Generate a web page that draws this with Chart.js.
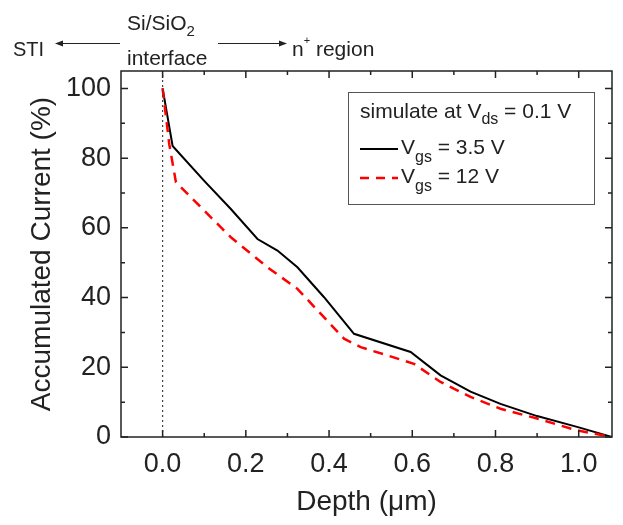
<!DOCTYPE html>
<html>
<head>
<meta charset="utf-8">
<script src="https://cdn.jsdelivr.net/npm/chart.js@4/dist/chart.umd.min.js"></script>
<style>
  body { margin: 0; background: #fff; }
  canvas { display: block; }
</style>
</head>
<body>
<canvas id="depthChart" width="623" height="525"></canvas>
<script>
// depth (um) vs accumulated current (%)
const depth35 = [0, 0.024, 0.1, 0.164, 0.228, 0.276, 0.324, 0.388, 0.46, 0.596, 0.668, 0.74, 0.812, 0.9, 0.996, 1.08];
const current35 = [100, 83.5, 73.5, 65.4, 56.8, 53.5, 48.7, 40.1, 29.6, 24.4, 17.7, 13.0, 9.5, 6.0, 2.9, 0];
const depth12 = [0, 0.016, 0.032, 0.092, 0.164, 0.252, 0.324, 0.436, 0.476, 0.604, 0.668, 0.74, 0.812, 0.9, 0.996, 1.08];
const current12 = [100, 84, 73.1, 65.9, 57.3, 48.7, 42.5, 28.2, 25.8, 21, 15.8, 11.5, 8.1, 5.3, 1.9, 0];
const interfaceDepth = 0;
const xTicks = [0, 0.2, 0.4, 0.6, 0.8, 1.0];
const xMinorTicks = [0.1, 0.3, 0.5, 0.7, 0.9];
const yTicks = [0, 20, 40, 60, 80, 100];
const yMinorTicks = [10, 30, 50, 70, 90];

const FONT = 'Liberation Sans, Arial, sans-serif';
const TEXT = '#222';

function toPoints(xs, ys) {
  return xs.map((v, i) => ({ x: v, y: ys[i] }));
}

// frame + inward ticks on all four sides
const frameTicks = {
  id: 'frameTicks',
  afterDatasetsDraw(chart) {
    const { ctx, chartArea: { left, right, top, bottom }, scales: { x, y } } = chart;
    ctx.save();
    ctx.strokeStyle = '#222';
    ctx.lineWidth = 1.5;
    ctx.strokeRect(left, top, right - left, bottom - top);
    ctx.beginPath();
    const xTick = (v, len) => {
      const px = x.getPixelForValue(v);
      ctx.moveTo(px, bottom); ctx.lineTo(px, bottom - len);
      ctx.moveTo(px, top); ctx.lineTo(px, top + len);
    };
    const yTick = (v, len) => {
      const py = y.getPixelForValue(v);
      ctx.moveTo(left, py); ctx.lineTo(left + len, py);
      ctx.moveTo(right, py); ctx.lineTo(right - len, py);
    };
    xTicks.forEach(v => xTick(v, 7));
    xMinorTicks.forEach(v => xTick(v, 4));
    yTicks.forEach(v => yTick(v, 7));
    yMinorTicks.forEach(v => yTick(v, 4));
    ctx.stroke();
    ctx.restore();
  }
};

function textWithSub(ctx, parts, x, y) {
  // parts: [text, size, dy]
  parts.forEach(p => {
    ctx.font = p[1] + 'px ' + FONT;
    ctx.fillText(p[0], x, y + p[2]);
    x += ctx.measureText(p[0]).width;
  });
  return x;
}

function arrow(ctx, x1, x2, y) {
  const dir = x2 > x1 ? 1 : -1;
  ctx.beginPath();
  ctx.moveTo(x1, y);
  ctx.lineTo(x2 - dir * 5, y);
  ctx.stroke();
  ctx.beginPath();
  ctx.moveTo(x2, y);
  ctx.lineTo(x2 - dir * 8, y - 3);
  ctx.lineTo(x2 - dir * 8, y + 3);
  ctx.closePath();
  ctx.fill();
}

// legend box and top annotations
const notes = {
  id: 'notes',
  afterDraw(chart) {
    const ctx = chart.ctx;
    ctx.save();
    ctx.fillStyle = TEXT;
    ctx.strokeStyle = TEXT;
    ctx.textBaseline = 'alphabetic';
    ctx.textAlign = 'left';

    // legend
    ctx.fillStyle = '#fff';
    ctx.fillRect(348, 92, 246, 112);
    ctx.lineWidth = 1;
    ctx.strokeStyle = '#555';
    ctx.strokeRect(348.5, 92.5, 246, 112);
    ctx.fillStyle = TEXT;
    let xe = textWithSub(ctx, [['simulate at V', 21, 0], ['ds', 16, 6]], 360, 118);
    textWithSub(ctx, [[' = 0.1 V', 21, 0]], xe, 118);

    ctx.lineWidth = 2;
    ctx.strokeStyle = '#000';
    ctx.beginPath(); ctx.moveTo(360, 149); ctx.lineTo(398, 149); ctx.stroke();
    xe = textWithSub(ctx, [['V', 21, 0], ['gs', 16, 8]], 401, 154);
    textWithSub(ctx, [[' = 3.5 V', 21, 0]], xe, 154);

    ctx.strokeStyle = '#ff0000';
    ctx.lineWidth = 2.5;
    ctx.setLineDash([9, 7]);
    ctx.beginPath(); ctx.moveTo(360, 178); ctx.lineTo(398, 178); ctx.stroke();
    ctx.setLineDash([]);
    xe = textWithSub(ctx, [['V', 21, 0], ['gs', 16, 8]], 401, 183);
    textWithSub(ctx, [[' = 12 V', 21, 0]], xe, 183);

    // annotation above the plot
    ctx.fillStyle = TEXT;
    ctx.strokeStyle = TEXT;
    ctx.lineWidth = 1;
    textWithSub(ctx, [['STI', 20, 0]], 13, 56);
    textWithSub(ctx, [['Si/SiO', 21, 0], ['2', 15, 6]], 127, 30);
    textWithSub(ctx, [['interface', 21, 0]], 127, 65);
    xe = textWithSub(ctx, [['n', 21, 0], ['+', 11, -12]], 292, 56);
    textWithSub(ctx, [[' region', 21, 0]], xe, 56);
    arrow(ctx, 120, 55, 43.5);
    arrow(ctx, 218, 287, 43.5);
    ctx.restore();
  }
};

const data = {
  datasets: [{
    label: 'interface',
    data: [{ x: interfaceDepth, y: 0 }, { x: interfaceDepth, y: 105 }],
    borderColor: '#444',
    borderWidth: 1.2,
    borderDash: [2, 3],
    pointRadius: 0
  }, {
    label: 'Vgs = 12 V',
    data: toPoints(depth12, current12),
    borderColor: '#ff0000',
    borderWidth: 2.5,
    borderDash: [10, 7],
    pointRadius: 0,
    tension: 0
  }, {
    label: 'Vgs = 3.5 V',
    data: toPoints(depth35, current35),
    borderColor: '#000',
    borderWidth: 2,
    pointRadius: 0,
    tension: 0
  }]
};

const config = {
  type: 'line',
  data,
  options: {
    responsive: false,
    animation: false,
    layout: { padding: { top: 71, right: 11, left: 0, bottom: 0 } },
    plugins: {
      legend: { display: false },
      tooltip: { enabled: false }
    },
    scales: {
      x: {
        type: 'linear',
        min: -0.1,
        max: 1.08,
        grid: { display: false, drawTicks: false },
        border: { display: false },
        afterBuildTicks: s => { s.ticks = xTicks.map(v => ({ value: v })); },
        afterFit: s => { s.height = 88; },
        ticks: {
          padding: 11,
          color: TEXT,
          font: { family: FONT, size: 27 },
          callback: v => v.toFixed(1)
        },
        title: {
          display: true,
          text: 'Depth (μm)',
          color: TEXT,
          font: { family: FONT, size: 28, lineHeight: 1 },
          padding: { top: 0, bottom: 9 }
        }
      },
      y: {
        min: 0,
        max: 105,
        grid: { display: false, drawTicks: false },
        border: { display: false },
        afterBuildTicks: s => { s.ticks = yTicks.map(v => ({ value: v })); },
        afterFit: s => { s.width = 121; },
        ticks: {
          padding: 10,
          color: TEXT,
          font: { family: FONT, size: 27 }
        },
        title: {
          display: true,
          text: 'Accumulated Current (%)',
          color: TEXT,
          font: { family: FONT, size: 28, lineHeight: 1 },
          padding: { top: 28, bottom: 0 }
        }
      }
    }
  },
  plugins: [frameTicks, notes]
};

const depthChart = new Chart(document.getElementById('depthChart'), config);
</script>
</body>
</html>
